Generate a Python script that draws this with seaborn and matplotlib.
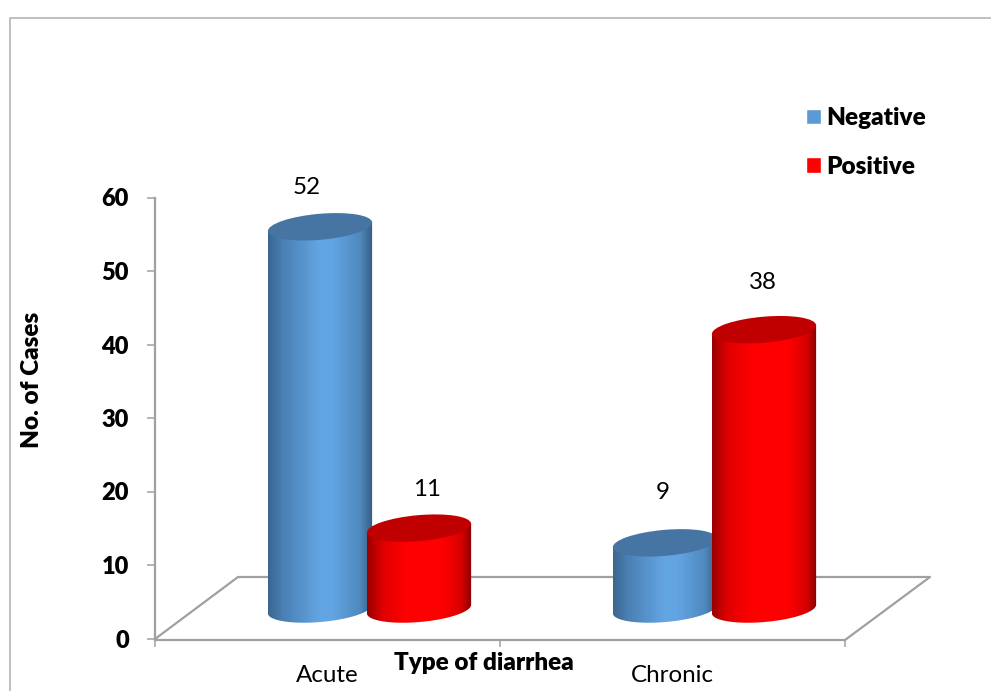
import numpy as np
import pandas as pd
import matplotlib
matplotlib.use('Agg')
import matplotlib.pyplot as plt
import seaborn as sns
from matplotlib.colors import LinearSegmentedColormap
from matplotlib.lines import Line2D
from matplotlib.patches import Ellipse
from matplotlib.path import Path
from matplotlib.transforms import IdentityTransform

categories = ['Acute', 'Chronic']
negative = [52, 9]
positive = [11, 38]
y_ticks = [0, 10, 20, 30, 40, 50, 60]

W, H = 991, 691
GRAY = '#A0A0A0'
BOLD = 'heavy'

sns.set_theme(style='white')
plt.rcParams['font.family'] = ['Lato', 'DejaVu Sans']

df = pd.DataFrame({
    'type': categories * 2,
    'result': ['Negative'] * 2 + ['Positive'] * 2,
    'cases': negative + positive,
})


def box(left, top, right, bottom):
    # pixel box (from top left of picture) -> figure fractions
    return [left / W, 1 - bottom / H, (right - left) / W, (bottom - top) / H]


def line(xs, ys, lw=1.6, color=GRAY):
    fig.add_artist(Line2D([x / W for x in xs], [1 - y / H for y in ys],
                          color=color, lw=lw, zorder=-1,
                          solid_capstyle='projecting'))


fig = plt.figure(figsize=(W / 100, H / 100), dpi=100)

# outer border and chart floor
line([10, 10, W], [H, 17.5, 17.5], lw=1.2, color='#B4B4B4')
line([155, 238, 930, 845], [639, 577, 577, 640])

# front frame with the axes
frame = fig.add_axes(box(155, 197.5, 845, 638.5))
frame.patch.set_visible(False)
frame.set_xlim(-0.5, 1.5)
frame.set_ylim(0, 60)
sns.despine(ax=frame)
for side in ['left', 'bottom']:
    frame.spines[side].set_color(GRAY)
    frame.spines[side].set_linewidth(1.6)
frame.spines['bottom'].set_position(('outward', 1.2))
frame.set_yticks(y_ticks)
frame.set_yticklabels(y_ticks, fontsize=17, fontweight=BOLD, color='black')
frame.tick_params(axis='y', left=True, length=6, width=1.1, color=GRAY, pad=12.8)
frame.set_xticks([-0.5, 0.5, 1.5])
frame.set_xticklabels([])
frame.tick_params(axis='x', bottom=True, length=5, width=1.1, color=GRAY)
frame.set_xticks([0, 1], minor=True)
frame.set_xticklabels(categories, minor=True, fontsize=17.4, color='black')
frame.tick_params(axis='x', which='minor', bottom=False, pad=14)
fig.text(484 / W, 1 - 663 / H, 'Type of diarrhea', fontsize=17.5, fontweight=BOLD,
         ha='center', va='center', color='black')
fig.text(32 / W, 1 - 380 / H, 'No. of Cases', fontsize=17.5, fontweight=BOLD,
         rotation=90, ha='center', va='center', color='black')

# bars sit on the floor, shifted in depth from the frame
ax = fig.add_axes(box(197, 168, 887, 168 + 441 + 29.4))
ax.patch.set_visible(False)
sns.barplot(data=df, x='type', y='cases', hue='result', ax=ax, errorbar=None,
            palette={'Negative': '#5B9BD5', 'Positive': '#FF0000'},
            width=0.574, gap=0, saturation=1, order=categories)
ax.set_xlim(-0.5, 1.5)
ax.set_ylim(-4, 60)
ax.set_axis_off()

handles, labels = ax.get_legend_handles_labels()
ax.get_legend().remove()
leg = fig.legend(handles, labels, loc='upper left', frameon=False,
                 bbox_to_anchor=(805.5 / W, 1 - 107 / H), borderpad=0, borderaxespad=0,
                 handlelength=0.62, handleheight=0.62, handletextpad=0.22,
                 labelspacing=1.1, labelcolor='black',
                 prop={'size': 17.5, 'weight': BOLD})

shades = {
    '#5B9BD5': ([0, 0.14, 0.5, 0.62, 0.88, 1],
                ['#3B668F', '#4A80B3', '#63A6E4', '#62A4E2', '#4F89BE', '#365C80'], '#4675A3'),
    '#FF0000': ([0, 0.15, 0.38, 0.72, 0.9, 1],
                ['#9A0000', '#E00000', '#FF0000', '#FF0000', '#D80000', '#880000'], '#C00000'),
}
label_dx = [-13, -2, 8, -1]
label_dy = [39, 50, 39, 47]

A, B, TILT = 52.3, 13, np.radians(5)
t = np.linspace(0, 2 * np.pi, 361)[:-1]
ex = A * np.cos(t) * np.cos(TILT) - B * np.sin(t) * np.sin(TILT)
ey = A * np.cos(t) * np.sin(TILT) + B * np.sin(t) * np.cos(TILT)
i_right, i_left = int(np.argmax(ex)), int(np.argmin(ex))
# lower arc of the ellipse, left end to right end
idx = np.arange(i_left, i_right + 360 + 1) % 360 if i_right < i_left else np.arange(i_left, i_right + 1)
arc = np.column_stack([ex[idx], ey[idx]])

for n, bar in enumerate(ax.patches[:4]):
    key = matplotlib.colors.to_hex(bar.get_facecolor()).upper()
    pos, stops, top_color = shades[key]
    cmap = LinearSegmentedColormap.from_list('cyl', list(zip(pos, stops)))
    xc = bar.get_x() + bar.get_width() / 2
    value = bar.get_height()
    cx0, cy0 = ax.transData.transform((xc, 0))
    cx1, cy1 = ax.transData.transform((xc, value))

    verts = np.vstack([arc + [cx0, cy0],
                       [[cx0 + ex[i_right], cy1 + ey[i_right]],
                        [cx0 + ex[i_left], cy1 + ey[i_left]]]])
    clip = Path(np.vstack([verts, verts[0]]), closed=True)
    (x0, _), (x1, _) = ax.transData.inverted().transform(
        [(cx0 + ex[i_left], 0), (cx0 + ex[i_right], 0)])
    img = ax.imshow(np.linspace(0, 1, 256)[None, :], cmap=cmap, aspect='auto',
                    extent=(x0, x1, -4, value + 2), zorder=3 + n, interpolation='bilinear')
    img.set_clip_path(clip, IdentityTransform())
    ax.add_patch(Ellipse((cx1, cy1), 2 * A, 2 * B, angle=np.degrees(TILT), facecolor=top_color,
                         edgecolor='none', transform=IdentityTransform(), zorder=3 + n,
                         clip_on=False))
    ax.annotate(f'{value:.0f}', (xc, value), xytext=(label_dx[n] * 0.72, label_dy[n] * 0.72),
                textcoords='offset points', ha='center', va='center', fontsize=17.4,
                color='black', zorder=10, annotation_clip=False)
ax.set_xlim(-0.5, 1.5)
ax.set_ylim(-4, 60)

fig.savefig('out.png', dpi=100)
